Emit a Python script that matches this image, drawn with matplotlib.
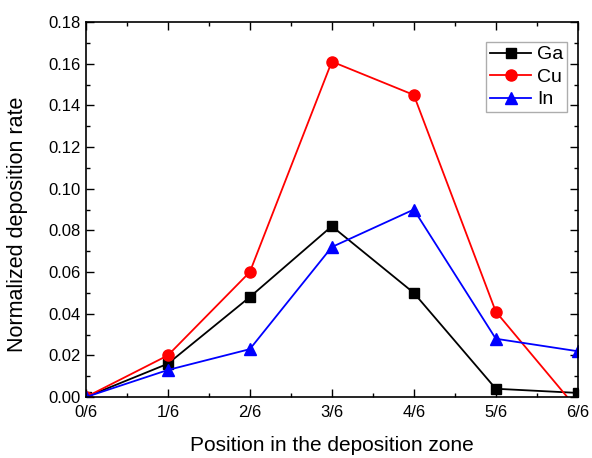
import matplotlib.pyplot as plt
from matplotlib.ticker import MultipleLocator

plt.rcParams['font.family'] = ['Liberation Sans', 'DejaVu Sans']
plt.rcParams['font.size'] = 12

# Data
positions = [0, 1/6, 2/6, 3/6, 4/6, 5/6, 6/6]
tick_labels = ['0/6', '1/6', '2/6', '3/6', '4/6', '5/6', '6/6']
ga = [0.000, 0.016, 0.048, 0.082, 0.050, 0.004, 0.002]
cu = [0.000, 0.020, 0.060, 0.161, 0.145, 0.041, -0.006]
in_ = [0.000, 0.013, 0.023, 0.072, 0.090, 0.028, 0.022]

fig = plt.figure(figsize=(5.92, 4.58), dpi=100)
ax = fig.add_axes([0.145, 0.133, 0.831, 0.819])

ax.plot(positions, ga, color='black', marker='s', markersize=7, linewidth=1.3, label='Ga')
ax.plot(positions, cu, color='red', marker='o', markersize=8, linewidth=1.3, label='Cu')
ax.plot(positions, in_, color='blue', marker='^', markersize=8, linewidth=1.3, label='In')

ax.set_xlim(0, 1)
ax.set_ylim(0, 0.18)
ax.set_xticks(positions)
ax.set_xticklabels(tick_labels)
ax.xaxis.set_minor_locator(MultipleLocator(1/12))
ax.yaxis.set_major_locator(MultipleLocator(0.02))
ax.yaxis.set_minor_locator(MultipleLocator(0.01))
ax.yaxis.set_major_formatter(plt.FormatStrFormatter('%.2f'))

ax.tick_params(which='both', direction='in', top=True, right=True, labelsize=12)
ax.tick_params(which='major', length=6, width=1)
ax.tick_params(which='minor', length=3, width=1)
ax.tick_params(axis='x', pad=6)

for s in ax.spines.values():
    s.set_linewidth(1.2)

ax.set_xlabel('Position in the deposition zone', fontsize=15, labelpad=11)
ax.set_ylabel('Normalized deposition rate', fontsize=15.5)
ax.yaxis.set_label_coords(-0.117, 0.46)

leg = ax.legend(loc='upper right', fancybox=False, edgecolor='#999999', fontsize=14,
                handlelength=2.1, handletextpad=0.3, borderpad=0.2,
                labelspacing=0.25, borderaxespad=0,
                bbox_to_anchor=(0.978, 0.947))
leg.get_frame().set_linewidth(1.0)

plt.savefig('out.png', dpi=100)
